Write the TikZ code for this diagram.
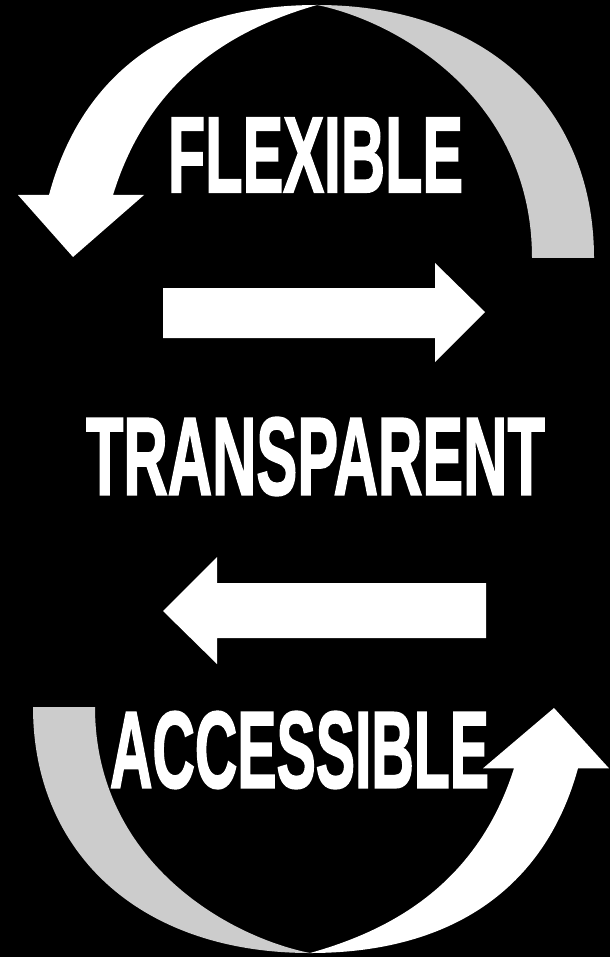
\documentclass[tikz,border=0pt]{standalone}
\usepackage{fontspec}
\setmainfont{Liberation Sans}
\newfontfamily\labelfont{Liberation Sans}[UprightFont={* Bold}, FakeBold=2]
\usepackage{graphicx}
\definecolor{bandgrey}{RGB}{204,204,204}
\tikzset{
  whiteshape/.style={fill=white, draw=none},
  greyshape/.style={fill=bandgrey, draw=none},
  label/.style={text=white, inner sep=0pt, anchor=center, font=\labelfont}
}
\begin{document}
\begin{tikzpicture}[x=1pt, y=-1pt]
  % background and bounding box
  \fill[black] (0,0) rectangle (610,957);
  \useasboundingbox (0,0) rectangle (610,957);

  % ---------- top curved arrow ----------
  % white left half with arrowhead
  \path[whiteshape]
    (49,195) .. controls (80,79) and (167,5) .. (317,5)
    .. controls (237,28) and (150,75) .. (113,195)
    -- (144,195) -- (73,257) -- (18,195) -- cycle;
  % grey right half
  \path[greyshape]
    (317,5) .. controls (487,5) and (594,108) .. (594,258)
    -- (532,258) .. controls (532,100) and (400,22) .. (317,5) -- cycle;

  % ---------- bottom curved arrow ----------
  % white right half with arrowhead
  \path[whiteshape]
    (578,768.3) .. controls (547,881) and (460,953) .. (310,953)
    .. controls (390,930.6) and (477,884.9) .. (514,768.3)
    -- (483,768.3) -- (554,708) -- (609,768.3) -- cycle;
  % grey left half
  \path[greyshape]
    (310,953) .. controls (140,953) and (33,852.8) .. (33,707)
    -- (95,707) .. controls (95,860.6) and (227,936.4) .. (310,953) -- cycle;

  % ---------- straight arrows ----------
  \path[whiteshape] (163,288) -- (435,288) -- (435,263) -- (485,312) -- (435,362) -- (435,338) -- (163,338) -- cycle;
  \path[whiteshape] (486,583) -- (217,583) -- (217,557) -- (163,611) -- (217,664) -- (217,638) -- (486,638) -- cycle;

  % ---------- labels ----------
  \node[label] (flexible) at (315.5,155) {\resizebox{295pt}{74pt}{FLEXIBLE}};
  \node[label] (transparent) at (315.5,456.5) {\resizebox{459pt}{77pt}{TRANSPARENT}};
  \node[label] (accessible) at (299.5,750) {\resizebox{379pt}{76pt}{ACCESSIBLE}};
\end{tikzpicture}
\end{document}
